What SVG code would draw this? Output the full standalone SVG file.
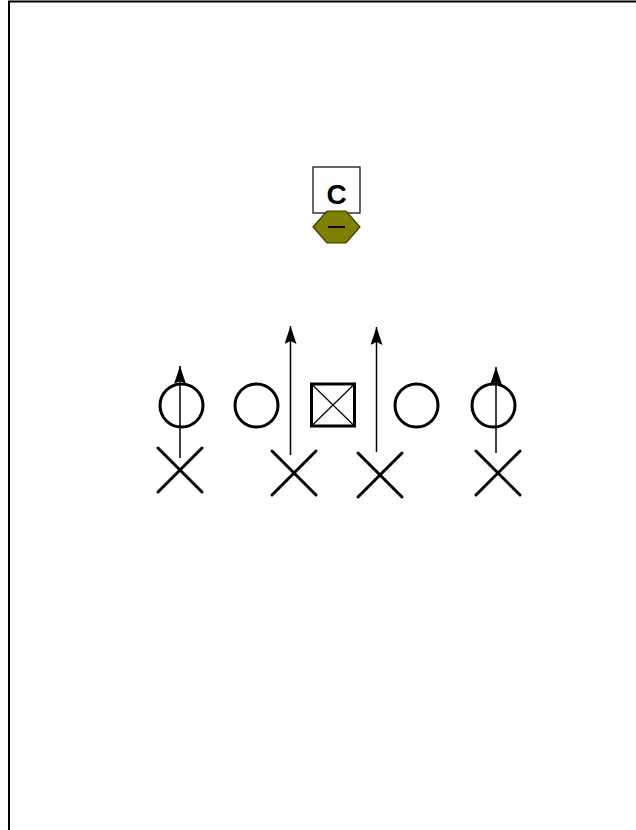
<svg xmlns="http://www.w3.org/2000/svg" width="636" height="830" viewBox="0 0 636 830">
<defs>
<style>
.o{fill:none;stroke:#000;stroke-width:3}
.x{stroke:#000;stroke-width:3;stroke-linecap:round}
.r{stroke:#000;stroke-width:1.5;fill:none}
</style>
<marker id="ah" markerWidth="18" markerHeight="12" refX="18" refY="6" orient="auto" markerUnits="userSpaceOnUse" viewBox="0 0 18 12">
<path d="M0,0 L18,6 L0,12 L3,6 Z" fill="#000"/>
</marker>
</defs>
<rect x="0" y="0" width="636" height="830" fill="#fff"/>
<rect x="9" y="1.5" width="700" height="900" fill="none" stroke="#000" stroke-width="2"/>
<g id="coach">
<rect x="313" y="167" width="47" height="46" fill="#fff" stroke="#000" stroke-width="1.2"/>
<text x="336.5" y="204" font-family="Liberation Sans, Arial, sans-serif" font-weight="bold" font-size="28" text-anchor="middle">C</text>
</g>
<g id="defender">
<polygon points="313,227 327,211 346,211 360,227 346,243 327,243" fill="#808000" stroke="#3a3a00" stroke-width="1.2"/>
<line x1="328" y1="227" x2="345" y2="227" stroke="#000" stroke-width="2"/>
</g>
<g id="o1"><circle cx="181.5" cy="405.5" r="21.5" class="o"/></g>
<g id="o2"><circle cx="256.5" cy="405.5" r="21.5" class="o"/></g>
<g id="center">
<rect x="311.5" y="384" width="43" height="42" class="o"/>
<line x1="311.5" y1="384" x2="354.5" y2="426" stroke="#000" stroke-width="1.2"/>
<line x1="354.5" y1="384" x2="311.5" y2="426" stroke="#000" stroke-width="1.2"/>
</g>
<g id="o4"><circle cx="416.5" cy="405.5" r="21.5" class="o"/></g>
<g id="o5"><circle cx="493.5" cy="405.5" r="21.5" class="o"/></g>
<g id="x1"><line x1="158" y1="448" x2="202" y2="492" class="x"/><line x1="202" y1="448" x2="158" y2="492" class="x"/></g>
<g id="x2"><line x1="272" y1="451" x2="316" y2="495" class="x"/><line x1="316" y1="451" x2="272" y2="495" class="x"/></g>
<g id="x3"><line x1="358" y1="453" x2="402" y2="497" class="x"/><line x1="402" y1="453" x2="358" y2="497" class="x"/></g>
<g id="x5"><line x1="476" y1="451" x2="520" y2="495" class="x"/><line x1="520" y1="451" x2="476" y2="495" class="x"/></g>
<g id="connectors">
<line x1="180" y1="458" x2="180" y2="366" class="r" marker-end="url(#ah)"/>
<line x1="290.5" y1="455" x2="290.5" y2="326" class="r" marker-end="url(#ah)"/>
<line x1="376.5" y1="452" x2="376.5" y2="327" class="r" marker-end="url(#ah)"/>
<line x1="496" y1="453" x2="496" y2="367" class="r" marker-end="url(#ah)"/>
</g>
</svg>
